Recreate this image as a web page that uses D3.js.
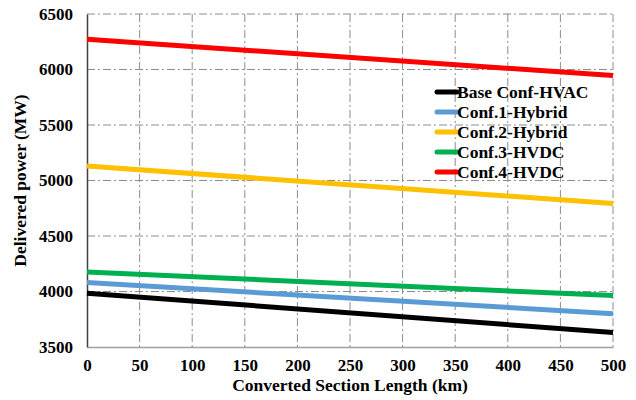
<!DOCTYPE html>
<html>
<head>
<meta charset="utf-8">
<script src="https://cdn.jsdelivr.net/npm/d3@7"></script>
<style>
  body { margin: 0; background: #fff; }
  text { font-family: "Liberation Serif", "Times New Roman", serif; font-weight: bold; fill: #000; }
  .grid line { stroke: #8c8c8c; stroke-width: 1; stroke-dasharray: 8,3,2,3; }
</style>
</head>
<body>
<svg id="chart" width="636" height="400"></svg>
<script>
// distance along converted section (km)
var lengths = [0, 500];
var seriesNames = ["Base Conf-HVAC", "Conf.1-Hybrid", "Conf.2-Hybrid", "Conf.3-HVDC", "Conf.4-HVDC"];
var seriesColors = ["#000000", "#5b9bd5", "#ffc000", "#00b050", "#ff0000"];
var baseHvac = [3985, 3630];
var conf1Hybrid = [4080, 3800];
var conf2Hybrid = [5130, 4792];
var conf3Hvdc = [4176, 3963];
var conf4Hvdc = [6272, 5945];
var xTicks = [0, 50, 100, 150, 200, 250, 300, 350, 400, 450, 500];
var yTicks = [3500, 4000, 4500, 5000, 5500, 6000, 6500];

var allSeries = [baseHvac, conf1Hybrid, conf2Hybrid, conf3Hvdc, conf4Hvdc];

var svg = d3.select("#chart");
var pLeft = 87, pRight = 613, pTop = 14, pBottom = 347;

var x = d3.scaleLinear().domain([0, 500]).range([pLeft, pRight]);
var y = d3.scaleLinear().domain([3500, 6500]).range([pBottom, pTop]);

// grid
var grid = svg.append("g").attr("class", "grid");
xTicks.forEach(function (t) {
    if (t === 0) return;
    grid.append("line").attr("x1", x(t)).attr("x2", x(t)).attr("y1", pTop).attr("y2", pBottom);
});
yTicks.forEach(function (t) {
    if (t === 3500) return;
    grid.append("line").attr("x1", pLeft).attr("x2", pRight).attr("y1", y(t)).attr("y2", y(t));
});

// axes
var xAxis = svg.append("g")
    .attr("transform", "translate(0," + pBottom + ")")
    .call(d3.axisBottom(x).tickValues(xTicks).tickFormat(d3.format("d")).tickSize(0).tickPadding(12));
xAxis.select(".domain").attr("stroke", "#a0a0a0").attr("stroke-width", 1.5);
xAxis.selectAll("text").style("font-size", "17px");

var yAxis = svg.append("g")
    .attr("transform", "translate(" + pLeft + ",0)")
    .call(d3.axisLeft(y).tickValues(yTicks).tickFormat(d3.format("d")).tickSize(0).tickPadding(14));
yAxis.select(".domain").attr("stroke", "#404040").attr("stroke-width", 1.5);
yAxis.selectAll("text").style("font-size", "17px");

// series lines
var line = d3.line()
    .x(function (d, i) { return x(lengths[i]); })
    .y(function (d) { return y(d); });

allSeries.forEach(function (s, i) {
    svg.append("path")
        .datum(s)
        .attr("d", line)
        .attr("fill", "none")
        .attr("stroke", seriesColors[i])
        .attr("stroke-width", 5);
});

// legend
var legend = svg.append("g").attr("transform", "translate(437,92)");
seriesNames.forEach(function (name, i) {
    var row = legend.append("g").attr("transform", "translate(0," + i * 20 + ")");
    row.append("line")
        .attr("x1", 0).attr("x2", 20)
        .attr("y1", 0).attr("y2", 0)
        .attr("stroke", seriesColors[i])
        .attr("stroke-width", 5)
        .attr("stroke-linecap", "round");
    row.append("text")
        .attr("x", 20)
        .attr("y", 0)
        .attr("dominant-baseline", "central")
        .style("font-size", "17.5px")
        .text(name);
});

// axis titles
svg.append("text")
    .attr("x", (pLeft + pRight) / 2)
    .attr("y", 391)
    .attr("text-anchor", "middle")
    .style("font-size", "17.5px")
    .text("Converted Section Length (km)");

svg.append("text")
    .attr("transform", "translate(26," + (pTop + pBottom) / 2 + ") rotate(-90)")
    .attr("text-anchor", "middle")
    .style("font-size", "17.5px")
    .text("Delivered power (MW)");
</script>
</body>
</html>
